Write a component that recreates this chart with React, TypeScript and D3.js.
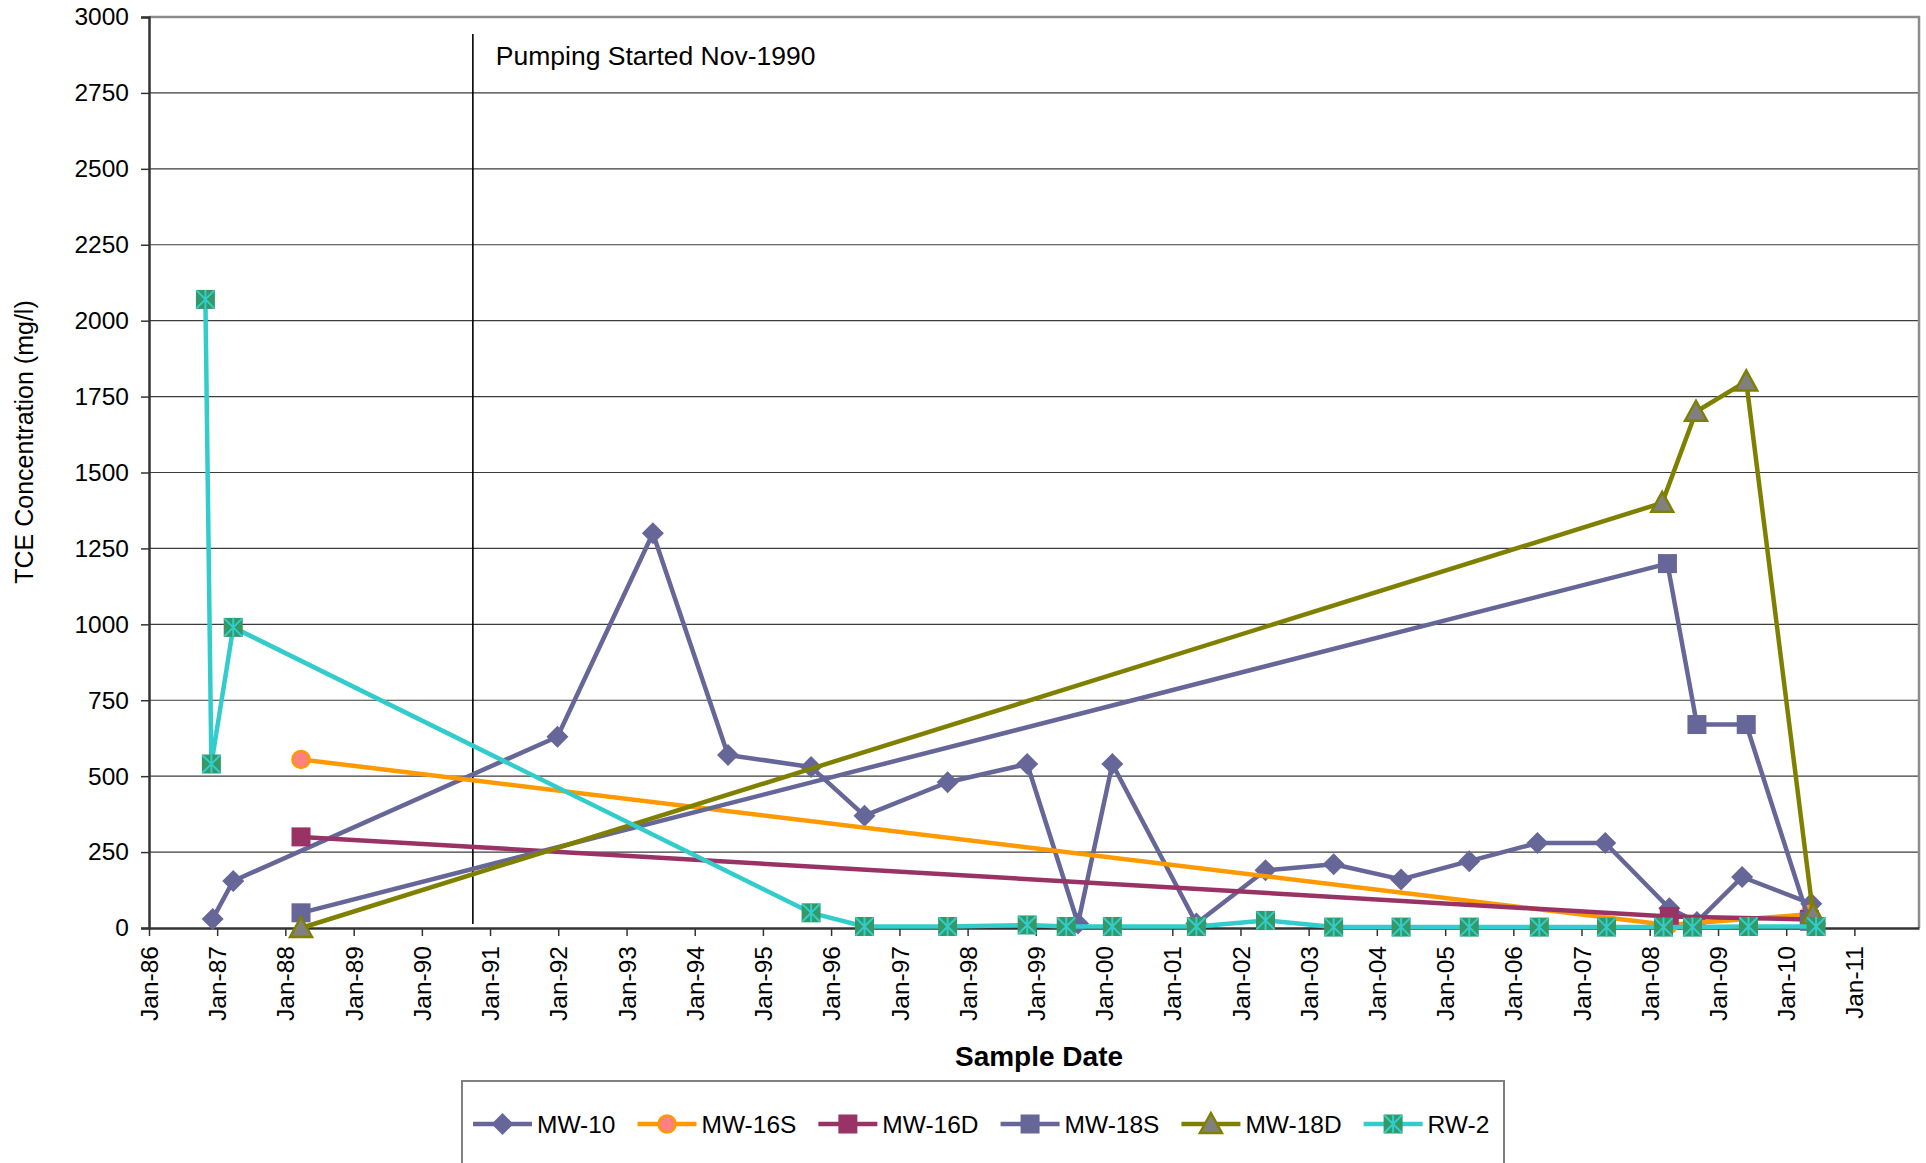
import * as d3 from 'd3';
import React, { useEffect, useRef } from 'react';

// ---- data ----
const mw10Dates = [
   '1986-12-08', '1987-03-28', '1991-12-28', '1993-05-22', '1994-06-28', '1995-09-16',
   '1996-06-28', '1997-09-16', '1998-11-16', '1999-08-15', '2000-02-15', '2001-05-10',
   '2002-05-15', '2003-05-15', '2004-05-10', '2005-05-10', '2006-05-10', '2007-05-08',
   '2008-04-15', '2008-09-10', '2009-05-10', '2010-05-15',
];
const mw10Values = [30, 155, 630, 1300, 570, 530, 370, 480, 540, 15, 540, 15, 190, 210, 160, 220, 280, 280, 65, 20, 168, 80];

const mw16sDates = ['1988-03-25', '2008-04-10', '2010-05-05'];
const mw16sValues = [555, 10, 45];

const mw16dDates = ['1988-03-25', '2008-04-15', '2010-05-05'];
const mw16dValues = [300, 38, 28];

const mw18sDates = ['1988-03-25', '2008-04-05', '2008-09-10', '2009-06-01', '2010-05-05'];
const mw18sValues = [50, 1200, 670, 670, 22];

const mw18dDates = ['1988-03-25', '2008-03-08', '2008-09-05', '2009-06-01', '2010-05-25'];
const mw18dValues = [0, 1400, 1700, 1800, 45];

const rw2Dates = [
   '1986-10-30', '1986-12-01', '1987-03-28', '1995-09-16', '1996-06-28', '1997-09-16',
   '1998-11-16', '1999-06-13', '2000-02-15', '2001-05-10', '2002-05-15', '2003-05-15',
   '2004-05-10', '2005-05-10', '2006-05-20', '2007-05-15', '2008-03-15', '2008-08-17',
   '2009-06-13', '2010-06-10',
];
const rw2Values = [2070, 540, 990, 50, 5, 5, 10, 5, 5, 5, 25, 3, 3, 3, 3, 3, 3, 3, 5, 5];

const yTickValues = [0, 250, 500, 750, 1000, 1250, 1500, 1750, 2000, 2250, 2500, 2750, 3000];
const xDomain = ['1986-01-01', '2011-12-13'];
const pumpingDate = '1990-10-01';
const pumpingLabel = 'Pumping Started Nov-1990';

type MarkerKind = 'diamond' | 'circle' | 'square' | 'triangle' | 'xsquare';

interface Series {
   name: string;
   dates: string[];
   values: number[];
   line: string;
   fill: string;
   stroke: string;
   marker: MarkerKind;
}

const series: Series[] = [
   { name: 'MW-10', dates: mw10Dates, values: mw10Values, line: '#666699', fill: '#666699', stroke: 'none', marker: 'diamond' },
   { name: 'MW-16S', dates: mw16sDates, values: mw16sValues, line: '#FF9900', fill: '#FF8080', stroke: '#FF9900', marker: 'circle' },
   { name: 'MW-16D', dates: mw16dDates, values: mw16dValues, line: '#993366', fill: '#993366', stroke: 'none', marker: 'square' },
   { name: 'MW-18S', dates: mw18sDates, values: mw18sValues, line: '#666699', fill: '#666699', stroke: 'none', marker: 'square' },
   { name: 'MW-18D', dates: mw18dDates, values: mw18dValues, line: '#808000', fill: '#808080', stroke: '#808000', marker: 'triangle' },
   { name: 'RW-2', dates: rw2Dates, values: rw2Values, line: '#33CCCC', fill: '#339966', stroke: '#33CCCC', marker: 'xsquare' },
];

const FONT = '"Liberation Sans", Arial, sans-serif';
const WIDTH = 1926;
const HEIGHT = 1163;

const parse = d3.timeParse('%Y-%m-%d');

const drawMarker = (
   g: d3.Selection<SVGGElement, unknown, null, undefined>,
   s: Series,
   cx: number,
   cy: number,
) => {
   const m = g.append('g').attr('transform', `translate(${cx},${cy})`);
   if (s.marker === 'diamond') {
      m.append('path').attr('d', 'M0,-11L11,0L0,11L-11,0Z').attr('fill', s.fill);
   } else if (s.marker === 'circle') {
      m.append('circle').attr('r', 8.5).attr('fill', s.fill).attr('stroke', s.stroke).attr('stroke-width', 2.5);
   } else if (s.marker === 'square') {
      m.append('rect').attr('x', -9.5).attr('y', -9.5).attr('width', 19).attr('height', 19).attr('fill', s.fill);
   } else if (s.marker === 'triangle') {
      m.append('path')
         .attr('d', 'M0,-11L11,9L-11,9Z')
         .attr('fill', s.fill)
         .attr('stroke', s.stroke)
         .attr('stroke-width', 2.5)
         .attr('stroke-linejoin', 'miter');
   } else {
      m.append('rect').attr('x', -9.5).attr('y', -9.5).attr('width', 19).attr('height', 19).attr('fill', s.fill);
      m.append('path')
         .attr('d', 'M-9,-9L9,9M9,-9L-9,9M0,-9.5L0,9.5')
         .attr('stroke', s.stroke)
         .attr('stroke-width', 2);
   }
};

const App = () => {
   const svgRef = useRef<SVGSVGElement | null>(null);

   useEffect(() => {
      document.body.style.margin = '0';
      const svgEl = svgRef.current;
      if (!svgEl) return;
      const svg = d3.select(svgEl);
      svg.selectAll('*').remove();

      const plot = { left: 149, top: 17, right: 1919, bottom: 928 };

      const x = d3
         .scaleTime()
         .domain(xDomain.map((d) => parse(d) as Date))
         .range([plot.left, plot.right]);
      const y = d3.scaleLinear().domain([0, 3000]).range([plot.bottom, plot.top]);

      svg.append('rect').attr('width', WIDTH).attr('height', HEIGHT).attr('fill', '#ffffff');

      // gridlines
      svg.append('g')
         .selectAll('line')
         .data(yTickValues.filter((v) => v > 0 && v < 3000))
         .join('line')
         .attr('x1', plot.left)
         .attr('x2', plot.right)
         .attr('y1', (d) => y(d))
         .attr('y2', (d) => y(d))
         .attr('stroke', '#3c3c3c')
         .attr('stroke-width', 1.2);

      // top / right border
      svg.append('path')
         .attr('d', `M${plot.left},${y(3000)}H${plot.right}V${plot.bottom}`)
         .attr('fill', 'none')
         .attr('stroke', '#8c8c8c')
         .attr('stroke-width', 2.5);

      // y axis
      const yAxis = svg
         .append('g')
         .attr('transform', `translate(${plot.left},0)`)
         .call(d3.axisLeft(y).tickValues(yTickValues).tickFormat(d3.format('d')).tickSize(8).tickPadding(12));
      yAxis.select('.domain').attr('stroke', '#333').attr('stroke-width', 2.5);
      yAxis.selectAll('.tick line').attr('stroke', '#333').attr('stroke-width', 1.5);
      yAxis.selectAll('.tick text').attr('font-family', FONT).attr('font-size', 24.5).attr('fill', '#000');

      // x axis
      const xAxis = svg
         .append('g')
         .attr('transform', `translate(0,${plot.bottom})`)
         .call(
            d3
               .axisBottom(x)
               .ticks(d3.timeYear.every(1))
               .tickFormat((d) => d3.timeFormat('%b-%y')(d as Date))
               .tickSize(8)
               .tickSizeOuter(0),
         );
      xAxis.select('.domain').attr('stroke', '#333').attr('stroke-width', 2.5);
      xAxis.selectAll('.tick line').attr('stroke', '#333').attr('stroke-width', 1.5);
      xAxis
         .selectAll('.tick text')
         .attr('font-family', FONT)
         .attr('font-size', 24.5)
         .attr('fill', '#000')
         .attr('transform', 'rotate(-90)')
         .attr('x', -18)
         .attr('y', 0)
         .attr('dy', '0.35em')
         .style('text-anchor', 'end');

      // pumping annotation
      const px = x(parse(pumpingDate) as Date);
      svg.append('line')
         .attr('x1', px)
         .attr('x2', px)
         .attr('y1', 34)
         .attr('y2', 924)
         .attr('stroke', '#000')
         .attr('stroke-width', 1.6);
      svg.append('text')
         .attr('x', px + 23)
         .attr('y', 65)
         .attr('font-family', FONT)
         .attr('font-size', 26.5)
         .attr('fill', '#000')
         .text(pumpingLabel);

      // series
      const g = svg.append('g');
      series.forEach((s) => {
         const pts = s.dates.map((d, i) => [x(parse(d) as Date), y(s.values[i])] as [number, number]);
         g.append('path')
            .datum(pts)
            .attr('d', d3.line())
            .attr('fill', 'none')
            .attr('stroke', s.line)
            .attr('stroke-width', 4.5)
            .attr('stroke-linejoin', 'round');
         pts.forEach(([cx, cy]) => drawMarker(g, s, cx, cy));
      });

      // axis titles
      svg.append('text')
         .attr('transform', `translate(33,442) rotate(-90)`)
         .attr('text-anchor', 'middle')
         .attr('font-family', FONT)
         .attr('font-size', 25)
         .attr('fill', '#000')
         .text('TCE Concentration (mg/l)');
      svg.append('text')
         .attr('x', 1039)
         .attr('y', 1066)
         .attr('text-anchor', 'middle')
         .attr('font-family', FONT)
         .attr('font-size', 28)
         .attr('font-weight', 'bold')
         .attr('fill', '#000')
         .text('Sample Date');

      // legend
      svg.append('rect')
         .attr('x', 462)
         .attr('y', 1081)
         .attr('width', 1042)
         .attr('height', 120)
         .attr('fill', '#fff')
         .attr('stroke', '#808080')
         .attr('stroke-width', 2);
      const legendY = 1124;
      let lx = 473;
      series.forEach((s) => {
         const item = svg.append('g');
         item.append('line')
            .attr('x1', lx)
            .attr('x2', lx + 59)
            .attr('y1', legendY)
            .attr('y2', legendY)
            .attr('stroke', s.line)
            .attr('stroke-width', 4.5);
         drawMarker(item, s, lx + 29.5, legendY);
         const t = item
            .append('text')
            .attr('x', lx + 64)
            .attr('y', legendY)
            .attr('dy', '0.35em')
            .attr('font-family', FONT)
            .attr('font-size', 24.5)
            .attr('fill', '#000')
            .text(s.name);
         const w = (t.node() as SVGTextElement).getComputedTextLength();
         lx = lx + 64 + w + 22;
      });
   }, []);

   return (
      <svg
         ref={svgRef}
         width={WIDTH}
         height={HEIGHT}
         style={{ position: 'absolute', left: 0, top: 0, display: 'block' }}
      />
   );
};

export default App;
